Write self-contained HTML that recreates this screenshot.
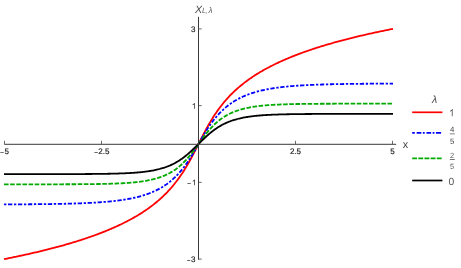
<!DOCTYPE html>
<html><head><meta charset="utf-8"><style>
html,body{margin:0;padding:0;background:#fff;}
svg{display:block;will-change:transform;}
text{font-family:"Liberation Sans",sans-serif;text-rendering:geometricPrecision;}
</style></head><body>
<svg width="461" height="268" viewBox="0 0 461 268">
<rect width="461" height="268" fill="#fff"/>
<g fill="none" stroke-width="1.8" stroke-linecap="butt" stroke-linejoin="round">
<path d="M4.00,259.14 L4.97,258.95 L5.94,258.76 L6.91,258.56 L7.89,258.37 L8.86,258.17 L9.83,257.98 L10.80,257.78 L11.78,257.58 L12.75,257.38 L13.72,257.18 L14.69,256.98 L15.67,256.78 L16.64,256.58 L17.61,256.37 L18.58,256.17 L19.56,255.96 L20.53,255.75 L21.50,255.54 L22.47,255.33 L23.45,255.12 L24.42,254.91 L25.39,254.69 L26.36,254.48 L27.34,254.26 L28.31,254.05 L29.28,253.83 L30.25,253.61 L31.23,253.39 L32.20,253.16 L33.17,252.94 L34.14,252.72 L35.12,252.49 L36.09,252.26 L37.06,252.03 L38.03,251.80 L39.01,251.57 L39.98,251.34 L40.95,251.11 L41.92,250.87 L42.90,250.63 L43.87,250.39 L44.84,250.15 L45.81,249.91 L46.79,249.67 L47.76,249.42 L48.73,249.18 L49.70,248.93 L50.68,248.68 L51.65,248.43 L52.62,248.18 L53.59,247.92 L54.57,247.67 L55.54,247.41 L56.51,247.15 L57.48,246.89 L58.46,246.62 L59.43,246.36 L60.40,246.09 L61.37,245.82 L62.35,245.55 L63.32,245.28 L64.29,245.01 L65.26,244.73 L66.24,244.45 L67.21,244.17 L68.18,243.89 L69.15,243.61 L70.13,243.32 L71.10,243.03 L72.07,242.74 L73.04,242.45 L74.02,242.15 L74.99,241.86 L75.96,241.56 L76.93,241.25 L77.91,240.95 L78.88,240.64 L79.85,240.33 L80.82,240.02 L81.80,239.71 L82.77,239.39 L83.74,239.07 L84.71,238.75 L85.69,238.43 L86.66,238.10 L87.63,237.77 L88.61,237.43 L89.58,237.10 L90.55,236.76 L91.52,236.42 L92.50,236.07 L93.47,235.73 L94.44,235.38 L95.41,235.02 L96.39,234.66 L97.36,234.30 L98.33,233.94 L99.30,233.57 L100.28,233.20 L101.25,232.83 L102.22,232.45 L103.19,232.07 L104.17,231.68 L105.14,231.29 L106.11,230.90 L107.08,230.50 L108.06,230.10 L109.03,229.69 L110.00,229.28 L110.97,228.87 L111.95,228.45 L112.92,228.03 L113.89,227.60 L114.86,227.17 L115.84,226.73 L116.81,226.29 L117.78,225.84 L118.75,225.39 L119.73,224.93 L120.70,224.47 L121.67,224.00 L122.64,223.53 L123.62,223.05 L124.59,222.56 L125.56,222.07 L126.53,221.58 L127.51,221.07 L128.48,220.56 L129.45,220.04 L130.42,219.52 L131.40,218.99 L132.37,218.45 L133.34,217.91 L134.31,217.35 L135.29,216.79 L136.26,216.23 L137.23,215.65 L138.20,215.06 L139.18,214.47 L140.15,213.87 L141.12,213.26 L142.09,212.64 L143.07,212.01 L144.04,211.37 L145.01,210.71 L145.98,210.05 L146.96,209.38 L147.93,208.70 L148.90,208.00 L149.87,207.30 L150.85,206.58 L151.82,205.85 L152.79,205.10 L153.76,204.34 L154.74,203.57 L155.71,202.78 L156.68,201.98 L157.65,201.16 L158.63,200.33 L159.60,199.48 L160.57,198.61 L161.54,197.73 L162.52,196.83 L163.49,195.90 L164.46,194.96 L165.43,194.00 L166.41,193.01 L167.38,192.01 L168.35,190.98 L169.32,189.93 L170.30,188.85 L171.27,187.75 L172.24,186.62 L173.21,185.46 L174.19,184.27 L175.16,183.06 L176.13,181.81 L177.10,180.54 L178.08,179.23 L179.05,177.89 L180.02,176.51 L180.99,175.10 L181.97,173.66 L182.94,172.17 L183.91,170.66 L184.88,169.10 L185.86,167.51 L186.83,165.88 L187.80,164.21 L188.77,162.51 L189.75,160.77 L190.72,159.00 L191.69,157.20 L192.66,155.37 L193.64,153.52 L194.61,151.64 L195.58,149.75 L196.55,147.84 L197.53,145.92 L198.50,144.00 L199.47,142.08 L200.45,140.16 L201.42,138.25 L202.39,136.36 L203.36,134.48 L204.34,132.63 L205.31,130.80 L206.28,129.00 L207.25,127.23 L208.23,125.49 L209.20,123.79 L210.17,122.12 L211.14,120.49 L212.12,118.90 L213.09,117.34 L214.06,115.83 L215.03,114.34 L216.01,112.90 L216.98,111.49 L217.95,110.11 L218.92,108.77 L219.90,107.46 L220.87,106.19 L221.84,104.94 L222.81,103.73 L223.79,102.54 L224.76,101.38 L225.73,100.25 L226.70,99.15 L227.68,98.07 L228.65,97.02 L229.62,95.99 L230.59,94.99 L231.57,94.00 L232.54,93.04 L233.51,92.10 L234.48,91.17 L235.46,90.27 L236.43,89.39 L237.40,88.52 L238.37,87.67 L239.35,86.84 L240.32,86.02 L241.29,85.22 L242.26,84.43 L243.24,83.66 L244.21,82.90 L245.18,82.15 L246.15,81.42 L247.13,80.70 L248.10,80.00 L249.07,79.30 L250.04,78.62 L251.02,77.95 L251.99,77.29 L252.96,76.63 L253.93,75.99 L254.91,75.36 L255.88,74.74 L256.85,74.13 L257.82,73.53 L258.80,72.94 L259.77,72.35 L260.74,71.77 L261.71,71.21 L262.69,70.65 L263.66,70.09 L264.63,69.55 L265.60,69.01 L266.58,68.48 L267.55,67.96 L268.52,67.44 L269.49,66.93 L270.47,66.42 L271.44,65.93 L272.41,65.44 L273.38,64.95 L274.36,64.47 L275.33,64.00 L276.30,63.53 L277.27,63.07 L278.25,62.61 L279.22,62.16 L280.19,61.71 L281.16,61.27 L282.14,60.83 L283.11,60.40 L284.08,59.97 L285.05,59.55 L286.03,59.13 L287.00,58.72 L287.97,58.31 L288.94,57.90 L289.92,57.50 L290.89,57.10 L291.86,56.71 L292.83,56.32 L293.81,55.93 L294.78,55.55 L295.75,55.17 L296.72,54.80 L297.70,54.43 L298.67,54.06 L299.64,53.70 L300.61,53.34 L301.59,52.98 L302.56,52.62 L303.53,52.27 L304.50,51.93 L305.48,51.58 L306.45,51.24 L307.42,50.90 L308.39,50.57 L309.37,50.23 L310.34,49.90 L311.31,49.57 L312.29,49.25 L313.26,48.93 L314.23,48.61 L315.20,48.29 L316.18,47.98 L317.15,47.67 L318.12,47.36 L319.09,47.05 L320.07,46.75 L321.04,46.44 L322.01,46.14 L322.98,45.85 L323.96,45.55 L324.93,45.26 L325.90,44.97 L326.87,44.68 L327.85,44.39 L328.82,44.11 L329.79,43.83 L330.76,43.55 L331.74,43.27 L332.71,42.99 L333.68,42.72 L334.65,42.45 L335.63,42.18 L336.60,41.91 L337.57,41.64 L338.54,41.38 L339.52,41.11 L340.49,40.85 L341.46,40.59 L342.43,40.33 L343.41,40.08 L344.38,39.82 L345.35,39.57 L346.32,39.32 L347.30,39.07 L348.27,38.82 L349.24,38.58 L350.21,38.33 L351.19,38.09 L352.16,37.85 L353.13,37.61 L354.10,37.37 L355.08,37.13 L356.05,36.89 L357.02,36.66 L357.99,36.43 L358.97,36.20 L359.94,35.97 L360.91,35.74 L361.88,35.51 L362.86,35.28 L363.83,35.06 L364.80,34.84 L365.77,34.61 L366.75,34.39 L367.72,34.17 L368.69,33.95 L369.66,33.74 L370.64,33.52 L371.61,33.31 L372.58,33.09 L373.55,32.88 L374.53,32.67 L375.50,32.46 L376.47,32.25 L377.44,32.04 L378.42,31.83 L379.39,31.63 L380.36,31.42 L381.33,31.22 L382.31,31.02 L383.28,30.82 L384.25,30.62 L385.22,30.42 L386.20,30.22 L387.17,30.02 L388.14,29.83 L389.11,29.63 L390.09,29.44 L391.06,29.24 L392.03,29.05 L393.00,28.86" stroke="#ff0000"/>
<path d="M4.00,204.40 L4.97,204.40 L5.94,204.39 L6.91,204.39 L7.89,204.39 L8.86,204.38 L9.83,204.38 L10.80,204.37 L11.78,204.37 L12.75,204.37 L13.72,204.36 L14.69,204.36 L15.67,204.35 L16.64,204.35 L17.61,204.34 L18.58,204.34 L19.56,204.33 L20.53,204.33 L21.50,204.32 L22.47,204.31 L23.45,204.31 L24.42,204.30 L25.39,204.30 L26.36,204.29 L27.34,204.28 L28.31,204.28 L29.28,204.27 L30.25,204.26 L31.23,204.25 L32.20,204.24 L33.17,204.24 L34.14,204.23 L35.12,204.22 L36.09,204.21 L37.06,204.20 L38.03,204.19 L39.01,204.18 L39.98,204.17 L40.95,204.16 L41.92,204.15 L42.90,204.14 L43.87,204.13 L44.84,204.11 L45.81,204.10 L46.79,204.09 L47.76,204.08 L48.73,204.06 L49.70,204.05 L50.68,204.03 L51.65,204.02 L52.62,204.00 L53.59,203.99 L54.57,203.97 L55.54,203.96 L56.51,203.94 L57.48,203.92 L58.46,203.90 L59.43,203.88 L60.40,203.86 L61.37,203.84 L62.35,203.82 L63.32,203.80 L64.29,203.78 L65.26,203.76 L66.24,203.73 L67.21,203.71 L68.18,203.68 L69.15,203.66 L70.13,203.63 L71.10,203.61 L72.07,203.58 L73.04,203.55 L74.02,203.52 L74.99,203.49 L75.96,203.46 L76.93,203.42 L77.91,203.39 L78.88,203.36 L79.85,203.32 L80.82,203.28 L81.80,203.25 L82.77,203.21 L83.74,203.17 L84.71,203.12 L85.69,203.08 L86.66,203.04 L87.63,202.99 L88.61,202.94 L89.58,202.90 L90.55,202.85 L91.52,202.79 L92.50,202.74 L93.47,202.69 L94.44,202.63 L95.41,202.57 L96.39,202.51 L97.36,202.45 L98.33,202.39 L99.30,202.32 L100.28,202.25 L101.25,202.18 L102.22,202.11 L103.19,202.03 L104.17,201.96 L105.14,201.88 L106.11,201.79 L107.08,201.71 L108.06,201.62 L109.03,201.53 L110.00,201.44 L110.97,201.34 L111.95,201.24 L112.92,201.14 L113.89,201.03 L114.86,200.92 L115.84,200.81 L116.81,200.69 L117.78,200.57 L118.75,200.44 L119.73,200.31 L120.70,200.18 L121.67,200.04 L122.64,199.90 L123.62,199.75 L124.59,199.60 L125.56,199.44 L126.53,199.28 L127.51,199.11 L128.48,198.93 L129.45,198.75 L130.42,198.57 L131.40,198.37 L132.37,198.17 L133.34,197.97 L134.31,197.75 L135.29,197.53 L136.26,197.30 L137.23,197.07 L138.20,196.82 L139.18,196.57 L140.15,196.31 L141.12,196.04 L142.09,195.76 L143.07,195.47 L144.04,195.16 L145.01,194.85 L145.98,194.53 L146.96,194.20 L147.93,193.85 L148.90,193.50 L149.87,193.13 L150.85,192.74 L151.82,192.35 L152.79,191.94 L153.76,191.51 L154.74,191.07 L155.71,190.62 L156.68,190.15 L157.65,189.66 L158.63,189.15 L159.60,188.63 L160.57,188.08 L161.54,187.52 L162.52,186.94 L163.49,186.33 L164.46,185.70 L165.43,185.05 L166.41,184.38 L167.38,183.68 L168.35,182.95 L169.32,182.19 L170.30,181.41 L171.27,180.59 L172.24,179.74 L173.21,178.87 L174.19,177.96 L175.16,177.03 L176.13,176.07 L177.10,175.08 L178.08,174.06 L179.05,173.01 L180.02,171.92 L180.99,170.79 L181.97,169.63 L182.94,168.43 L183.91,167.19 L184.88,165.91 L185.86,164.59 L186.83,163.22 L187.80,161.81 L188.77,160.37 L189.75,158.87 L190.72,157.34 L191.69,155.77 L192.66,154.16 L193.64,152.53 L194.61,150.86 L195.58,149.16 L196.55,147.45 L197.53,145.73 L198.50,144.00 L199.47,142.27 L200.45,140.55 L201.42,138.84 L202.39,137.14 L203.36,135.47 L204.34,133.84 L205.31,132.23 L206.28,130.66 L207.25,129.13 L208.23,127.63 L209.20,126.19 L210.17,124.78 L211.14,123.41 L212.12,122.09 L213.09,120.81 L214.06,119.57 L215.03,118.37 L216.01,117.21 L216.98,116.08 L217.95,114.99 L218.92,113.94 L219.90,112.92 L220.87,111.93 L221.84,110.97 L222.81,110.04 L223.79,109.13 L224.76,108.26 L225.73,107.41 L226.70,106.59 L227.68,105.81 L228.65,105.05 L229.62,104.32 L230.59,103.62 L231.57,102.95 L232.54,102.30 L233.51,101.67 L234.48,101.06 L235.46,100.48 L236.43,99.92 L237.40,99.37 L238.37,98.85 L239.35,98.34 L240.32,97.85 L241.29,97.38 L242.26,96.93 L243.24,96.49 L244.21,96.06 L245.18,95.65 L246.15,95.26 L247.13,94.87 L248.10,94.50 L249.07,94.15 L250.04,93.80 L251.02,93.47 L251.99,93.15 L252.96,92.84 L253.93,92.53 L254.91,92.24 L255.88,91.96 L256.85,91.69 L257.82,91.43 L258.80,91.18 L259.77,90.93 L260.74,90.70 L261.71,90.47 L262.69,90.25 L263.66,90.03 L264.63,89.83 L265.60,89.63 L266.58,89.43 L267.55,89.25 L268.52,89.07 L269.49,88.89 L270.47,88.72 L271.44,88.56 L272.41,88.40 L273.38,88.25 L274.36,88.10 L275.33,87.96 L276.30,87.82 L277.27,87.69 L278.25,87.56 L279.22,87.43 L280.19,87.31 L281.16,87.19 L282.14,87.08 L283.11,86.97 L284.08,86.86 L285.05,86.76 L286.03,86.66 L287.00,86.56 L287.97,86.47 L288.94,86.38 L289.92,86.29 L290.89,86.21 L291.86,86.12 L292.83,86.04 L293.81,85.97 L294.78,85.89 L295.75,85.82 L296.72,85.75 L297.70,85.68 L298.67,85.61 L299.64,85.55 L300.61,85.49 L301.59,85.43 L302.56,85.37 L303.53,85.31 L304.50,85.26 L305.48,85.21 L306.45,85.15 L307.42,85.10 L308.39,85.06 L309.37,85.01 L310.34,84.96 L311.31,84.92 L312.29,84.88 L313.26,84.83 L314.23,84.79 L315.20,84.75 L316.18,84.72 L317.15,84.68 L318.12,84.64 L319.09,84.61 L320.07,84.58 L321.04,84.54 L322.01,84.51 L322.98,84.48 L323.96,84.45 L324.93,84.42 L325.90,84.39 L326.87,84.37 L327.85,84.34 L328.82,84.32 L329.79,84.29 L330.76,84.27 L331.74,84.24 L332.71,84.22 L333.68,84.20 L334.65,84.18 L335.63,84.16 L336.60,84.14 L337.57,84.12 L338.54,84.10 L339.52,84.08 L340.49,84.06 L341.46,84.04 L342.43,84.03 L343.41,84.01 L344.38,84.00 L345.35,83.98 L346.32,83.97 L347.30,83.95 L348.27,83.94 L349.24,83.92 L350.21,83.91 L351.19,83.90 L352.16,83.89 L353.13,83.87 L354.10,83.86 L355.08,83.85 L356.05,83.84 L357.02,83.83 L357.99,83.82 L358.97,83.81 L359.94,83.80 L360.91,83.79 L361.88,83.78 L362.86,83.77 L363.83,83.76 L364.80,83.76 L365.77,83.75 L366.75,83.74 L367.72,83.73 L368.69,83.72 L369.66,83.72 L370.64,83.71 L371.61,83.70 L372.58,83.70 L373.55,83.69 L374.53,83.69 L375.50,83.68 L376.47,83.67 L377.44,83.67 L378.42,83.66 L379.39,83.66 L380.36,83.65 L381.33,83.65 L382.31,83.64 L383.28,83.64 L384.25,83.63 L385.22,83.63 L386.20,83.63 L387.17,83.62 L388.14,83.62 L389.11,83.61 L390.09,83.61 L391.06,83.61 L392.03,83.60 L393.00,83.60" stroke="#0000ff" stroke-dasharray="4.3,1.7,2.3,1.655" stroke-dashoffset="5.935"/>
<path d="M4.00,184.32 L4.97,184.32 L5.94,184.32 L6.91,184.32 L7.89,184.32 L8.86,184.32 L9.83,184.32 L10.80,184.32 L11.78,184.32 L12.75,184.32 L13.72,184.32 L14.69,184.32 L15.67,184.32 L16.64,184.32 L17.61,184.32 L18.58,184.32 L19.56,184.32 L20.53,184.32 L21.50,184.32 L22.47,184.32 L23.45,184.32 L24.42,184.32 L25.39,184.32 L26.36,184.32 L27.34,184.32 L28.31,184.32 L29.28,184.32 L30.25,184.32 L31.23,184.32 L32.20,184.32 L33.17,184.32 L34.14,184.31 L35.12,184.31 L36.09,184.31 L37.06,184.31 L38.03,184.31 L39.01,184.31 L39.98,184.31 L40.95,184.31 L41.92,184.31 L42.90,184.31 L43.87,184.31 L44.84,184.31 L45.81,184.31 L46.79,184.30 L47.76,184.30 L48.73,184.30 L49.70,184.30 L50.68,184.30 L51.65,184.30 L52.62,184.30 L53.59,184.29 L54.57,184.29 L55.54,184.29 L56.51,184.29 L57.48,184.29 L58.46,184.29 L59.43,184.28 L60.40,184.28 L61.37,184.28 L62.35,184.28 L63.32,184.27 L64.29,184.27 L65.26,184.27 L66.24,184.27 L67.21,184.26 L68.18,184.26 L69.15,184.26 L70.13,184.25 L71.10,184.25 L72.07,184.24 L73.04,184.24 L74.02,184.24 L74.99,184.23 L75.96,184.23 L76.93,184.22 L77.91,184.21 L78.88,184.21 L79.85,184.20 L80.82,184.20 L81.80,184.19 L82.77,184.18 L83.74,184.18 L84.71,184.17 L85.69,184.16 L86.66,184.15 L87.63,184.14 L88.61,184.13 L89.58,184.12 L90.55,184.11 L91.52,184.10 L92.50,184.09 L93.47,184.08 L94.44,184.07 L95.41,184.05 L96.39,184.04 L97.36,184.02 L98.33,184.01 L99.30,183.99 L100.28,183.98 L101.25,183.96 L102.22,183.94 L103.19,183.92 L104.17,183.90 L105.14,183.88 L106.11,183.85 L107.08,183.83 L108.06,183.81 L109.03,183.78 L110.00,183.75 L110.97,183.72 L111.95,183.69 L112.92,183.66 L113.89,183.63 L114.86,183.59 L115.84,183.55 L116.81,183.51 L117.78,183.47 L118.75,183.43 L119.73,183.38 L120.70,183.34 L121.67,183.29 L122.64,183.23 L123.62,183.18 L124.59,183.12 L125.56,183.06 L126.53,183.00 L127.51,182.93 L128.48,182.86 L129.45,182.78 L130.42,182.71 L131.40,182.63 L132.37,182.54 L133.34,182.45 L134.31,182.36 L135.29,182.26 L136.26,182.15 L137.23,182.04 L138.20,181.93 L139.18,181.81 L140.15,181.69 L141.12,181.55 L142.09,181.42 L143.07,181.27 L144.04,181.12 L145.01,180.96 L145.98,180.79 L146.96,180.62 L147.93,180.43 L148.90,180.24 L149.87,180.04 L150.85,179.83 L151.82,179.61 L152.79,179.38 L153.76,179.13 L154.74,178.88 L155.71,178.61 L156.68,178.33 L157.65,178.04 L158.63,177.73 L159.60,177.41 L160.57,177.07 L161.54,176.72 L162.52,176.35 L163.49,175.96 L164.46,175.56 L165.43,175.13 L166.41,174.69 L167.38,174.23 L168.35,173.74 L169.32,173.23 L170.30,172.70 L171.27,172.14 L172.24,171.56 L173.21,170.95 L174.19,170.31 L175.16,169.64 L176.13,168.95 L177.10,168.22 L178.08,167.46 L179.05,166.67 L180.02,165.84 L180.99,164.98 L181.97,164.08 L182.94,163.15 L183.91,162.18 L184.88,161.18 L185.86,160.14 L186.83,159.07 L187.80,157.96 L188.77,156.81 L189.75,155.63 L190.72,154.43 L191.69,153.19 L192.66,151.93 L193.64,150.65 L194.61,149.34 L195.58,148.02 L196.55,146.69 L197.53,145.35 L198.50,144.00 L199.47,142.65 L200.45,141.31 L201.42,139.98 L202.39,138.66 L203.36,137.35 L204.34,136.07 L205.31,134.81 L206.28,133.57 L207.25,132.37 L208.23,131.19 L209.20,130.04 L210.17,128.93 L211.14,127.86 L212.12,126.82 L213.09,125.82 L214.06,124.85 L215.03,123.92 L216.01,123.02 L216.98,122.16 L217.95,121.33 L218.92,120.54 L219.90,119.78 L220.87,119.05 L221.84,118.36 L222.81,117.69 L223.79,117.05 L224.76,116.44 L225.73,115.86 L226.70,115.30 L227.68,114.77 L228.65,114.26 L229.62,113.77 L230.59,113.31 L231.57,112.87 L232.54,112.44 L233.51,112.04 L234.48,111.65 L235.46,111.28 L236.43,110.93 L237.40,110.59 L238.37,110.27 L239.35,109.96 L240.32,109.67 L241.29,109.39 L242.26,109.12 L243.24,108.87 L244.21,108.62 L245.18,108.39 L246.15,108.17 L247.13,107.96 L248.10,107.76 L249.07,107.57 L250.04,107.38 L251.02,107.21 L251.99,107.04 L252.96,106.88 L253.93,106.73 L254.91,106.58 L255.88,106.45 L256.85,106.31 L257.82,106.19 L258.80,106.07 L259.77,105.96 L260.74,105.85 L261.71,105.74 L262.69,105.64 L263.66,105.55 L264.63,105.46 L265.60,105.37 L266.58,105.29 L267.55,105.22 L268.52,105.14 L269.49,105.07 L270.47,105.00 L271.44,104.94 L272.41,104.88 L273.38,104.82 L274.36,104.77 L275.33,104.71 L276.30,104.66 L277.27,104.62 L278.25,104.57 L279.22,104.53 L280.19,104.49 L281.16,104.45 L282.14,104.41 L283.11,104.37 L284.08,104.34 L285.05,104.31 L286.03,104.28 L287.00,104.25 L287.97,104.22 L288.94,104.19 L289.92,104.17 L290.89,104.15 L291.86,104.12 L292.83,104.10 L293.81,104.08 L294.78,104.06 L295.75,104.04 L296.72,104.02 L297.70,104.01 L298.67,103.99 L299.64,103.98 L300.61,103.96 L301.59,103.95 L302.56,103.93 L303.53,103.92 L304.50,103.91 L305.48,103.90 L306.45,103.89 L307.42,103.88 L308.39,103.87 L309.37,103.86 L310.34,103.85 L311.31,103.84 L312.29,103.83 L313.26,103.82 L314.23,103.82 L315.20,103.81 L316.18,103.80 L317.15,103.80 L318.12,103.79 L319.09,103.79 L320.07,103.78 L321.04,103.77 L322.01,103.77 L322.98,103.76 L323.96,103.76 L324.93,103.76 L325.90,103.75 L326.87,103.75 L327.85,103.74 L328.82,103.74 L329.79,103.74 L330.76,103.73 L331.74,103.73 L332.71,103.73 L333.68,103.73 L334.65,103.72 L335.63,103.72 L336.60,103.72 L337.57,103.72 L338.54,103.71 L339.52,103.71 L340.49,103.71 L341.46,103.71 L342.43,103.71 L343.41,103.71 L344.38,103.70 L345.35,103.70 L346.32,103.70 L347.30,103.70 L348.27,103.70 L349.24,103.70 L350.21,103.70 L351.19,103.69 L352.16,103.69 L353.13,103.69 L354.10,103.69 L355.08,103.69 L356.05,103.69 L357.02,103.69 L357.99,103.69 L358.97,103.69 L359.94,103.69 L360.91,103.69 L361.88,103.69 L362.86,103.69 L363.83,103.68 L364.80,103.68 L365.77,103.68 L366.75,103.68 L367.72,103.68 L368.69,103.68 L369.66,103.68 L370.64,103.68 L371.61,103.68 L372.58,103.68 L373.55,103.68 L374.53,103.68 L375.50,103.68 L376.47,103.68 L377.44,103.68 L378.42,103.68 L379.39,103.68 L380.36,103.68 L381.33,103.68 L382.31,103.68 L383.28,103.68 L384.25,103.68 L385.22,103.68 L386.20,103.68 L387.17,103.68 L388.14,103.68 L389.11,103.68 L390.09,103.68 L391.06,103.68 L392.03,103.68 L393.00,103.68" stroke="#00aa00" stroke-dasharray="4.6,1.541"/>
<path d="M4.00,174.13 L4.97,174.13 L5.94,174.13 L6.91,174.13 L7.89,174.13 L8.86,174.13 L9.83,174.13 L10.80,174.13 L11.78,174.13 L12.75,174.13 L13.72,174.13 L14.69,174.13 L15.67,174.13 L16.64,174.13 L17.61,174.13 L18.58,174.13 L19.56,174.13 L20.53,174.13 L21.50,174.13 L22.47,174.13 L23.45,174.13 L24.42,174.13 L25.39,174.13 L26.36,174.13 L27.34,174.13 L28.31,174.13 L29.28,174.13 L30.25,174.13 L31.23,174.13 L32.20,174.13 L33.17,174.13 L34.14,174.13 L35.12,174.13 L36.09,174.13 L37.06,174.13 L38.03,174.13 L39.01,174.13 L39.98,174.12 L40.95,174.12 L41.92,174.12 L42.90,174.12 L43.87,174.12 L44.84,174.12 L45.81,174.12 L46.79,174.12 L47.76,174.12 L48.73,174.12 L49.70,174.12 L50.68,174.12 L51.65,174.12 L52.62,174.11 L53.59,174.11 L54.57,174.11 L55.54,174.11 L56.51,174.11 L57.48,174.11 L58.46,174.11 L59.43,174.11 L60.40,174.10 L61.37,174.10 L62.35,174.10 L63.32,174.10 L64.29,174.10 L65.26,174.10 L66.24,174.09 L67.21,174.09 L68.18,174.09 L69.15,174.09 L70.13,174.08 L71.10,174.08 L72.07,174.08 L73.04,174.08 L74.02,174.07 L74.99,174.07 L75.96,174.07 L76.93,174.06 L77.91,174.06 L78.88,174.06 L79.85,174.05 L80.82,174.05 L81.80,174.04 L82.77,174.04 L83.74,174.03 L84.71,174.03 L85.69,174.02 L86.66,174.02 L87.63,174.01 L88.61,174.00 L89.58,174.00 L90.55,173.99 L91.52,173.98 L92.50,173.97 L93.47,173.96 L94.44,173.96 L95.41,173.95 L96.39,173.94 L97.36,173.93 L98.33,173.92 L99.30,173.90 L100.28,173.89 L101.25,173.88 L102.22,173.87 L103.19,173.85 L104.17,173.84 L105.14,173.82 L106.11,173.81 L107.08,173.79 L108.06,173.77 L109.03,173.75 L110.00,173.74 L110.97,173.71 L111.95,173.69 L112.92,173.67 L113.89,173.65 L114.86,173.62 L115.84,173.59 L116.81,173.57 L117.78,173.54 L118.75,173.51 L119.73,173.47 L120.70,173.44 L121.67,173.40 L122.64,173.37 L123.62,173.33 L124.59,173.29 L125.56,173.24 L126.53,173.20 L127.51,173.15 L128.48,173.10 L129.45,173.04 L130.42,172.99 L131.40,172.93 L132.37,172.87 L133.34,172.80 L134.31,172.73 L135.29,172.66 L136.26,172.59 L137.23,172.51 L138.20,172.42 L139.18,172.33 L140.15,172.24 L141.12,172.14 L142.09,172.04 L143.07,171.94 L144.04,171.82 L145.01,171.70 L145.98,171.58 L146.96,171.45 L147.93,171.31 L148.90,171.17 L149.87,171.01 L150.85,170.85 L151.82,170.69 L152.79,170.51 L153.76,170.32 L154.74,170.13 L155.71,169.93 L156.68,169.71 L157.65,169.49 L158.63,169.25 L159.60,169.00 L160.57,168.74 L161.54,168.47 L162.52,168.18 L163.49,167.88 L164.46,167.56 L165.43,167.23 L166.41,166.89 L167.38,166.52 L168.35,166.14 L169.32,165.74 L170.30,165.33 L171.27,164.89 L172.24,164.44 L173.21,163.96 L174.19,163.46 L175.16,162.94 L176.13,162.40 L177.10,161.84 L178.08,161.25 L179.05,160.64 L180.02,160.01 L180.99,159.35 L181.97,158.67 L182.94,157.96 L183.91,157.23 L184.88,156.48 L185.86,155.70 L186.83,154.90 L187.80,154.08 L188.77,153.24 L189.75,152.38 L190.72,151.50 L191.69,150.60 L192.66,149.69 L193.64,148.76 L194.61,147.82 L195.58,146.87 L196.55,145.92 L197.53,144.96 L198.50,144.00 L199.47,143.04 L200.45,142.08 L201.42,141.13 L202.39,140.18 L203.36,139.24 L204.34,138.31 L205.31,137.40 L206.28,136.50 L207.25,135.62 L208.23,134.76 L209.20,133.92 L210.17,133.10 L211.14,132.30 L212.12,131.52 L213.09,130.77 L214.06,130.04 L215.03,129.33 L216.01,128.65 L216.98,127.99 L217.95,127.36 L218.92,126.75 L219.90,126.16 L220.87,125.60 L221.84,125.06 L222.81,124.54 L223.79,124.04 L224.76,123.56 L225.73,123.11 L226.70,122.67 L227.68,122.26 L228.65,121.86 L229.62,121.48 L230.59,121.11 L231.57,120.77 L232.54,120.44 L233.51,120.12 L234.48,119.82 L235.46,119.53 L236.43,119.26 L237.40,119.00 L238.37,118.75 L239.35,118.51 L240.32,118.29 L241.29,118.07 L242.26,117.87 L243.24,117.68 L244.21,117.49 L245.18,117.31 L246.15,117.15 L247.13,116.99 L248.10,116.83 L249.07,116.69 L250.04,116.55 L251.02,116.42 L251.99,116.30 L252.96,116.18 L253.93,116.06 L254.91,115.96 L255.88,115.86 L256.85,115.76 L257.82,115.67 L258.80,115.58 L259.77,115.49 L260.74,115.41 L261.71,115.34 L262.69,115.27 L263.66,115.20 L264.63,115.13 L265.60,115.07 L266.58,115.01 L267.55,114.96 L268.52,114.90 L269.49,114.85 L270.47,114.80 L271.44,114.76 L272.41,114.71 L273.38,114.67 L274.36,114.63 L275.33,114.60 L276.30,114.56 L277.27,114.53 L278.25,114.49 L279.22,114.46 L280.19,114.43 L281.16,114.41 L282.14,114.38 L283.11,114.35 L284.08,114.33 L285.05,114.31 L286.03,114.29 L287.00,114.26 L287.97,114.25 L288.94,114.23 L289.92,114.21 L290.89,114.19 L291.86,114.18 L292.83,114.16 L293.81,114.15 L294.78,114.13 L295.75,114.12 L296.72,114.11 L297.70,114.10 L298.67,114.08 L299.64,114.07 L300.61,114.06 L301.59,114.05 L302.56,114.04 L303.53,114.04 L304.50,114.03 L305.48,114.02 L306.45,114.01 L307.42,114.00 L308.39,114.00 L309.37,113.99 L310.34,113.98 L311.31,113.98 L312.29,113.97 L313.26,113.97 L314.23,113.96 L315.20,113.96 L316.18,113.95 L317.15,113.95 L318.12,113.94 L319.09,113.94 L320.07,113.94 L321.04,113.93 L322.01,113.93 L322.98,113.93 L323.96,113.92 L324.93,113.92 L325.90,113.92 L326.87,113.92 L327.85,113.91 L328.82,113.91 L329.79,113.91 L330.76,113.91 L331.74,113.90 L332.71,113.90 L333.68,113.90 L334.65,113.90 L335.63,113.90 L336.60,113.90 L337.57,113.89 L338.54,113.89 L339.52,113.89 L340.49,113.89 L341.46,113.89 L342.43,113.89 L343.41,113.89 L344.38,113.89 L345.35,113.88 L346.32,113.88 L347.30,113.88 L348.27,113.88 L349.24,113.88 L350.21,113.88 L351.19,113.88 L352.16,113.88 L353.13,113.88 L354.10,113.88 L355.08,113.88 L356.05,113.88 L357.02,113.88 L357.99,113.87 L358.97,113.87 L359.94,113.87 L360.91,113.87 L361.88,113.87 L362.86,113.87 L363.83,113.87 L364.80,113.87 L365.77,113.87 L366.75,113.87 L367.72,113.87 L368.69,113.87 L369.66,113.87 L370.64,113.87 L371.61,113.87 L372.58,113.87 L373.55,113.87 L374.53,113.87 L375.50,113.87 L376.47,113.87 L377.44,113.87 L378.42,113.87 L379.39,113.87 L380.36,113.87 L381.33,113.87 L382.31,113.87 L383.28,113.87 L384.25,113.87 L385.22,113.87 L386.20,113.87 L387.17,113.87 L388.14,113.87 L389.11,113.87 L390.09,113.87 L391.06,113.87 L392.03,113.87 L393.00,113.87" stroke="#000"/>
</g>
<g stroke="#3a3a3a" stroke-width="1" fill="none">
<path d="M4.2,144.3 H396.2"/>
<path d="M198.5,16.8 V259.7"/>
</g>
<g stroke="#444" stroke-width="0.8" fill="none">
<path d="M4.5,144 v-3.2 M101.5,144 v-3.2 M295.5,144 v-3.2 M392.5,144 v-3.2"/>
<path d="M198.5,28.9 h3.2 M198.5,105.63 h3.2 M198.5,182.37 h3.2 M198.5,259.1 h3.2"/>
</g>
<g font-size="8" fill="#151515" stroke="#151515" stroke-width="0.15">
<text x="4.6" y="154">5</text>
<text x="98.3" y="154">2.5</text>
<text x="295.5" y="154" text-anchor="middle">2.5</text>
<text x="392.5" y="154" text-anchor="middle">5</text>
<text x="195.5" y="32" text-anchor="end">3</text>
<text x="195.5" y="262.1" text-anchor="end">3</text>
<path transform="translate(191.80,108.65) scale(0.003906,-0.003906)" d="M763 0H583V1147Q518 1085 412.5 1023Q307 961 223 930V1104Q374 1175 487 1276Q600 1377 647 1472H763Z" fill="#222"/>
<path transform="translate(191.90,185.35) scale(0.003906,-0.003906)" d="M763 0H583V1147Q518 1085 412.5 1023Q307 961 223 930V1104Q374 1175 487 1276Q600 1377 647 1472H763Z" fill="#222"/>
<g fill="#3a3a3a" stroke="none">
<rect x="0.3" y="152.1" width="3.4" height="0.75"/>
<rect x="94.4" y="152.1" width="3.4" height="0.75"/>
<rect x="187.4" y="183.05" width="3.4" height="0.75"/>
<rect x="187.1" y="260.1" width="3.2" height="0.75"/>
</g>
</g>
<text x="402.7" y="148" font-size="10.8" fill="#444">x</text>
<g font-style="italic" fill="#4a4a4a"><text x="195.1" y="12.8" font-size="10.7">X</text><text x="201.9" y="12.8" font-size="7.5" fill="#606060">L</text><text x="205.4" y="12.6" font-size="7.5" fill="#888">,</text><text x="208.6" y="12.8" font-size="8.2" fill="#606060">λ</text></g>
<text x="432.1" y="102.9" font-size="10.5" font-style="italic" fill="#444">λ</text>
<g fill="none" stroke-width="1.7">
<path d="M412.2,112.3 H442.4" stroke="#ff0000"/>
<path d="M412.2,132.9 H442.4" stroke="#0000ff" stroke-dasharray="2.6,1.85,4.7,1.5,1.85,1.75,4.7,1.5,1.8,1.5,5.15,100"/>
<path d="M412.2,158.4 H442.4" stroke="#00aa00" stroke-dasharray="4.85,1.3"/>
<path d="M412.2,180.5 H442.4" stroke="#000"/>
</g>
<g fill="#555">
<path transform="translate(448.94,116.25) scale(0.004883,-0.004883)" d="M763 0H583V1147Q518 1085 412.5 1023Q307 961 223 930V1104Q374 1175 487 1276Q600 1377 647 1472H763Z" fill="#5a5a5a"/>
<text x="448.6" y="184.9" font-size="10.3">0</text>
<g font-size="7.8" fill="#444" style="font-family:'Liberation Serif',serif">
<text x="450" y="132">4</text><text x="450.1" y="143.5">5</text>
</g>
<g font-size="7.5">
<text x="450" y="157.5">2</text><text x="450.1" y="168.9">5</text>
</g>
<rect x="449.8" y="133.4" width="5" height="0.9" fill="#777"/>
<rect x="449.8" y="159" width="5" height="0.9" fill="#666"/>
</g>
</svg>
</body></html>
